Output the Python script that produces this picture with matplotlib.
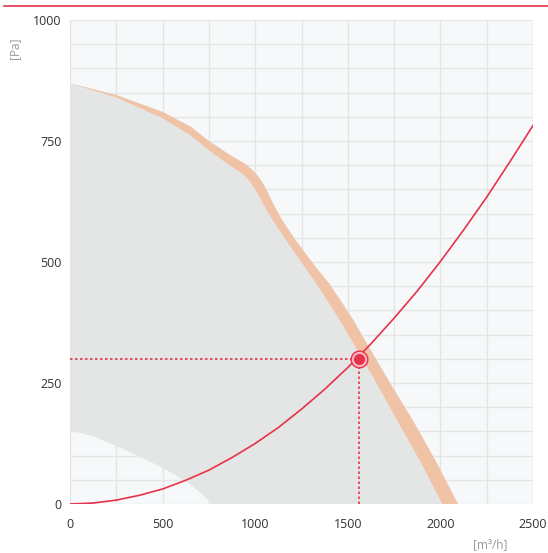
import numpy as np
import matplotlib
matplotlib.use("Agg")
import matplotlib.pyplot as plt
from matplotlib.lines import Line2D

# Fan curve, upper edge of the band [m3/h], [Pa]
fan_top_x = [0, 250, 500, 650, 750, 860, 940, 975, 1010, 1040, 1070, 1100, 1140, 1220, 1330, 1400, 1460, 1530, 1590, 1720, 1860, 1980, 2095]
fan_top_y = [869, 845, 810, 780, 750, 722, 704, 694, 680, 664, 642, 618, 590, 544, 488, 455, 421, 380, 340, 255, 167, 85, 0]

# Fan curve, lower edge of the band
fan_bot_x = [0, 250, 500, 650, 750, 860, 930, 965, 1000, 1030, 1060, 1100, 1190, 1300, 1360, 1420, 1480, 1510, 1640, 1775, 1900, 2010]
fan_bot_y = [869, 840, 797, 762, 731, 700, 683, 670, 650, 630, 608, 583, 532, 472, 438, 402, 365, 345, 260, 167, 82, 0]

# Lower limit of the working area
min_x = [0, 125, 250, 375, 500, 625, 700, 765]
min_y = [152, 140, 120, 98, 75, 47, 25, 0]

# System curve
sys_x = [0, 125, 250, 375, 500, 625, 750, 875, 1000, 1125, 1250, 1375, 1500, 1625, 1750, 1875, 2000, 2125, 2250, 2375, 2500]
sys_y = [0, 2, 8, 18, 31, 49, 70, 96, 125, 158, 196, 237, 282, 331, 384, 440, 501, 566, 634, 707, 782]

# Working point
work_x = 1560
work_y = 300

red = "#e6324b"
plt.rcParams["font.family"] = ["Open Sans", "DejaVu Sans"]

fig = plt.figure(figsize=(5.48, 5.53), dpi=100)
ax = fig.add_axes([70 / 548, 1 - 504 / 553, 463 / 548, 484 / 553])
ax.set_facecolor("#f7f8fa")

# gray working area
gx = list(fan_top_x) + [fan_top_x[-1], min_x[-1]] + list(min_x[::-1])
gy = list(fan_top_y) + [0, 0] + list(min_y[::-1])
ax.fill(gx, gy, color="#e4e6e5", lw=0, zorder=0.3)

# orange band
bx = list(fan_top_x) + list(fan_bot_x[::-1])
by = list(fan_top_y) + list(fan_bot_y[::-1])
ax.fill(bx, by, color="#f0c3a6", lw=0, zorder=2)

# system curve
ax.plot(sys_x, sys_y, color=red, lw=1.2, zorder=3)

# working point with guide lines
ax.plot([0, work_x], [work_y, work_y], color=red, lw=1.2, ls=(0, (1.5, 1.5)), zorder=3)
ax.plot([work_x, work_x], [0, work_y], color=red, lw=1.2, ls=(0, (1.5, 1.5)), zorder=3)
ax.plot(work_x, work_y, "o", ms=12, mfc="#f7b9c2", mec=red, mew=1.0, zorder=4)
ax.plot(work_x, work_y, "o", ms=7, mfc=red, mec=red, zorder=5)

ax.set_xlim(0, 2500)
ax.set_ylim(0, 1000)
ax.set_xticks(np.arange(0, 2501, 250), minor=True)
ax.set_yticks(np.arange(0, 1001, 50), minor=True)
ax.set_xticks([0, 500, 1000, 1500, 2000, 2500])
ax.set_yticks([0, 250, 500, 750, 1000])
ax.set_axisbelow(True)
ax.grid(True, which="both", color="#e4e5e5", lw=1)
ax.tick_params(which="both", length=0, labelsize=9, colors="#333333")
ax.tick_params(axis="x", pad=10)
ax.tick_params(axis="y", pad=6)
for s in ax.spines.values():
    s.set_visible(False)

fig.text(15 / 548, 1 - 48 / 553, "[Pa]", rotation=90, ha="center", va="center", fontsize=8.5, color="#999999")
fig.text(490 / 548, 1 - 545 / 553, "[m³/h]", ha="center", va="center", fontsize=8.5, color="#999999")
fig.add_artist(Line2D([4 / 548, 1], [1 - 6 / 553, 1 - 6 / 553], color=red, lw=1.2))

fig.savefig("out.png", dpi=100)
